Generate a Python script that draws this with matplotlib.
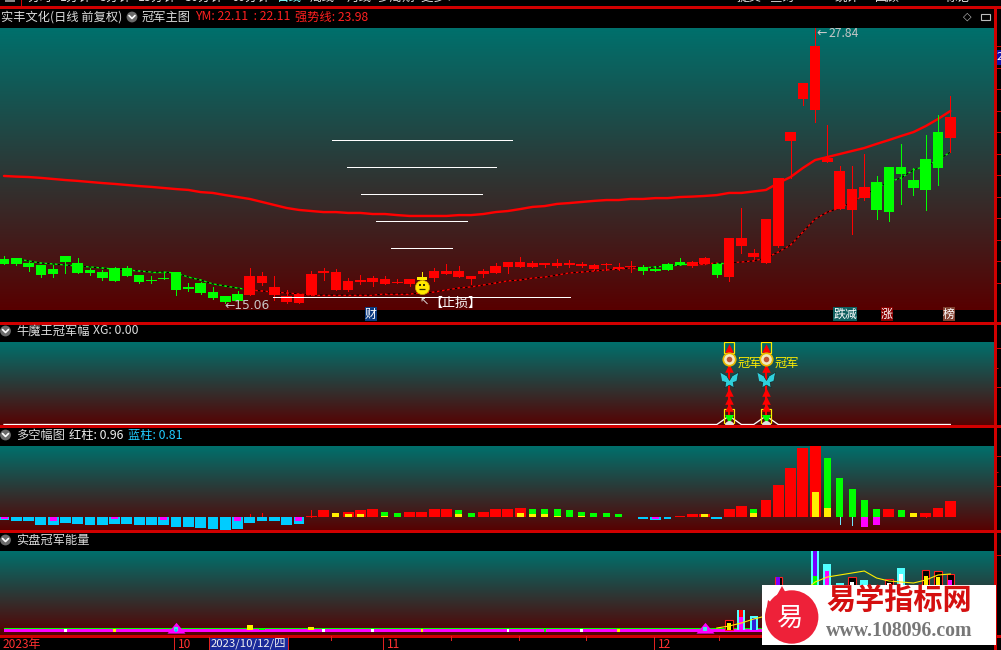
import numpy as np
import matplotlib
matplotlib.use("Agg")
import matplotlib.pyplot as plt
from matplotlib.patches import Rectangle, Circle, Polygon
from matplotlib.colors import LinearSegmentedColormap

plt.rcParams['font.family'] = ['Noto Sans CJK SC', 'DejaVu Sans']

# ---------- data ----------
candle_colors = list("g" * 20 + "r" * 14 + "y" + "r" * 17 + "gggg" + "rr" + "g" + "r" * 12 + "g" * 6 + "r")
open_p = [17.10,17.15,16.91,16.82,16.63,17.24,16.91,16.59,16.49,16.68,16.68,16.35,16.12,16.21,16.49,15.80,15.98,15.56,15.38,15.47,
          15.42,15.98,15.42,15.10,15.05,15.42,16.45,15.66,15.66,16.03,16.03,15.94,15.98,15.94,16.12,16.21,16.40,16.26,16.17,16.40,
          16.45,16.73,16.73,16.73,16.82,16.77,16.82,16.77,16.63,16.82,16.63,16.73,16.73,16.63,16.87,16.96,16.77,16.87,16.87,16.26,
          17.70,17.19,16.91,17.70,22.59,24.54,24.03,21.61,19.42,19.38,19.93,20.68,21.38,21.38,20.77,21.75,23.00,22.73]
high_p = [17.24,17.15,16.96,16.82,16.82,17.24,17.15,16.68,16.59,16.73,16.77,16.35,16.31,16.49,16.49,15.98,16.03,15.80,15.38,15.61,
          16.68,16.49,16.31,15.66,15.47,16.54,16.68,16.63,16.21,16.35,16.31,16.31,16.17,16.17,16.49,16.68,16.87,16.77,16.31,16.63,
          16.91,16.96,17.19,17.01,16.91,17.10,17.05,16.96,16.87,16.91,16.91,17.01,16.82,16.77,16.91,17.15,17.01,17.19,16.91,18.07,
          19.47,17.56,18.96,20.87,23.00,25.28,27.84,23.33,21.42,21.42,21.98,20.96,21.38,22.45,21.33,22.86,23.80,24.68]
low_p = [16.87,16.82,16.54,16.26,16.26,16.45,16.45,16.35,16.12,16.08,16.31,15.98,15.98,16.17,15.42,15.61,15.47,15.24,15.05,15.05,
         15.42,15.89,15.19,15.05,15.05,15.42,16.12,15.66,15.61,15.94,15.84,15.94,15.98,15.84,15.89,16.08,16.40,16.26,15.94,16.26,
         16.45,16.45,16.73,16.73,16.73,16.73,16.73,16.73,16.59,16.59,16.59,16.49,16.40,16.54,16.59,16.82,16.73,16.87,16.26,16.08,
         17.38,17.10,16.91,17.66,20.87,24.26,23.47,21.61,19.42,18.26,19.84,18.96,18.87,19.66,20.07,19.38,20.54,22.07]
close_p = [16.87,16.87,16.73,16.35,16.40,16.96,16.45,16.45,16.21,16.08,16.31,16.03,16.08,16.17,15.66,15.70,15.52,15.29,15.10,15.15,
           16.31,16.31,15.80,15.38,15.47,16.40,16.54,16.49,16.08,16.12,16.21,16.17,16.03,16.17,16.26,16.54,16.54,16.54,16.31,16.54,
           16.77,16.96,16.96,16.91,16.91,16.91,16.91,16.87,16.82,16.87,16.73,16.77,16.54,16.54,16.59,16.82,16.96,17.15,16.35,18.07,
           18.07,17.38,18.96,20.87,23.00,25.28,27.00,21.80,21.19,20.35,20.45,19.38,19.28,21.05,20.40,20.31,21.33,23.70]
ym_line = [np.nan,17.10,17.01,16.91,16.87,16.82,16.77,16.73,16.68,16.63,16.59,16.54,16.49,16.49,16.45,16.26,16.12,15.94,15.84,15.75,
           15.66,15.61,15.56,15.52,15.47,15.42,15.42,15.42,15.42,15.42,15.42,15.47,15.47,15.47,15.52,15.56,15.66,15.75,15.80,15.89,
           15.98,16.08,16.12,16.21,16.26,16.35,16.45,16.49,16.54,16.59,16.63,16.68,16.68,16.73,16.77,16.82,16.87,16.87,16.91,16.91,
           16.96,17.01,17.15,17.42,17.75,18.35,18.96,19.28,19.47,19.75,20.07,20.40,20.68,20.87,21.24,21.42,21.70,22.07]
strong_line = [20.96,20.93,20.91,20.87,20.82,20.77,20.73,20.68,20.63,20.59,20.54,20.49,20.45,20.40,20.35,20.31,20.21,20.17,20.07,19.98,
               19.89,19.75,19.61,19.47,19.38,19.33,19.28,19.28,19.24,19.24,19.19,19.19,19.14,19.10,19.10,19.10,19.10,19.14,19.14,19.19,
               19.28,19.33,19.42,19.52,19.56,19.66,19.70,19.75,19.80,19.84,19.84,19.89,19.89,19.93,19.93,19.98,20.00,20.03,20.07,20.17,
               20.17,20.24,20.31,20.63,20.91,21.33,21.70,21.84,21.98,22.12,22.26,22.45,22.63,22.82,23.00,23.28,23.61,23.98]
price_ticks = list(range(16, 28))
ladder_start = [26.7, 27.9, 29.05, 30.3, 31.5, 21.9]
ladder_end = [41.3, 40.0, 38.9, 37.7, 36.45, 46.05]
ladder_price = [22.63, 21.38, 20.12, 18.87, 17.61, 15.35]

xg_values = [1 if i in (59, 62) else 0 for i in range(78)]
xg_days = [59, 62]
arrow_levels = [9.0, 6.65, 3.82, 2.88, 2.06]

bar3_main = [-.19,-.25,-.31,-.5,-.5,-.38,-.44,-.5,-.56,-.44,-.44,-.5,-.56,-.5,-.63,-.63,-.69,-.81,-.88,-.81,
             -.38,-.25,-.31,-.5,-.44,.06,.38,.25,.31,.38,.44,.31,.25,.31,.31,.44,.44,.38,.25,.31,
             .44,.5,.56,.5,.5,.44,.38,.31,.25,.19,.13,0,-.13,-.19,0,.06,.13,.13,-.13,.44,
             .63,.5,1.06,1.94,3.06,4.25,4.44,3.63,2.38,1.69,1.06,.44,.5,.38,0,.19,.56,.94]
bar3_main_col = list("c" * 25 + "rr" + "g" + "rrr" + "gg" + "rrrr" + "gg" + "rrrr" + "g" * 8 + "m" + "cc" + "c"
                     + "rrr" + "c" + "rr" + "g" + "rrrrr" + "ggggg" + "r" + "g" + "y" + "rrr")
bar3_inner = [-.13,0,0,0,-.25,0,0,0,0,-.13,0,0,0,-.19,0,0,0,0,0,-.25,
              0,0,0,0,-.25,0,0,.19,.13,.13,0,.06,0,0,0,0,0,.13,0,0,
              0,0,.25,.13,.13,.06,0,.06,0,-.04,0,-.06,0,-.13,-.13,0,0,.13,0,0,
              0,.25,0,0,0,0,1.56,.56,0,0,-.63,-.56,0,0,.25,0,0,0]
bar3_inner_cyan_days = [54]
tail_days = [20, 21, 25, 68, 69, 75]
tail_tops = [.13, .19, .38, -.44, -.56, .25]
tail_cols = ['r', 'r', 'r', 'c', 'c', 'r']

vol_days = [59,60,61,62,63,64,65,66,67,68,69,70,71,72,73,74,75,76,77]
vol_outer = [10,20,14,37,53,30,40,79,66,47,53,50,40,51,62,40,60,59,56]
vol_outer_col = ['o','c','c','o','o','c','c','c','c','c','o','c','o','o','c','c','o','o','o']
vol_inner = [7,20,12,30,53,20,30,79,59,0,48,0,30,47,56,30,54,53,50]
vol_inner_col = ['y','r','b','m','p','m','m','p','m','m','w','m','w','w','w','w','y','y','m']
vol_low_days = [20, 21, 25, 60, 66]
vol_low = [5, 2, 3, 13, 54]
vol_low_col = ['y', 'g', 'y', 'm', 'g']
vol_ma_days = list(range(58, 78))
vol_ma = [2,4,7,11,14,20,28,38,48,53,55,57,59,52,49,48,47,50,55,56]
vol_bump_days = [14, 57]
dot_days = [5, 9, 14, 26, 30, 34, 41, 44, 47, 50]
dot_cols = ['w', 'y', 'c', 'w', 'w', 'y', 'w', 'g', 'w', 'y']

date_ticks_big = [174, 209, 287.5, 383, 654]
date_ticks_small = [331, 451, 519, 586, 719]

# ---------- layout helpers ----------
W, H = 1001, 650
PC = {'r': '#ff0000', 'g': '#00ff00', 'c': '#00ccff', 'm': '#ff00ff', 'y': '#ffee00',
      'b': '#3020d8', 'p': '#7a00ff', 'w': '#ffffff', 'o': '#ff2020'}
LINE = '#d00000'
px = 1.0 * 72 / 100
fig = plt.figure(figsize=(W / 100, H / 100), dpi=100, facecolor='black')
cmap = LinearSegmentedColormap.from_list('bg', [(0, 112/255, 108/255), (88/255, 0, 0)])
XL = ((0 - 4) / 12.29, (995 - 4) / 12.29)
days = np.arange(78)


def panel(y0, y1, ylim, ticks=(), minor=()):
    ax = fig.add_axes([0, 1 - y1 / H, 995 / W, (y1 - y0) / H], facecolor='black')
    ax.set_xlim(*XL)
    ax.set_ylim(*ylim)
    ax.imshow(np.linspace(0, 1, 256)[:, None], cmap=cmap, aspect='auto', extent=(*XL, ylim[0], ylim[1]),
              origin='upper', zorder=0, interpolation='bilinear')
    for s in ax.spines.values():
        s.set_visible(False)
    ax.set_xticks([])
    ax.yaxis.tick_right()
    ax.set_yticks(list(ticks))
    ax.set_yticks(list(minor), minor=True)
    ax.tick_params(axis='y', which='major', color=LINE, length=4.3, width=px, labelright=False, labelleft=False)
    ax.tick_params(axis='y', which='minor', color=LINE, length=2.2, width=px)
    return ax


# ---------- main panel ----------
ax1 = panel(28, 310, (14.727, 27.84), ticks=price_ticks)
body_w = 10.6 / 12.29
ax1.plot(days, strong_line, color='#ff0000', lw=2.4 * px, zorder=3, solid_capstyle='round')
for i in range(1, 77):
    c = PC[candle_colors[i]] if candle_colors[i] != 'y' else PC['r']
    ax1.plot([i, i + 1], [ym_line[i], ym_line[i + 1]], color=c, lw=1.3 * px, zorder=2)
ax1.plot(days, ym_line, color='black', lw=1.3 * px, ls=(0, (2, 2)), zorder=2.5)
for i in days:
    c = PC[candle_colors[i]]
    ax1.vlines(i, low_p[i], high_p[i], color=c, lw=px, zorder=4, antialiased=False)
    bot, top = min(open_p[i], close_p[i]), max(open_p[i], close_p[i])
    ax1.bar(i, top - bot, bottom=bot, width=body_w, color=c, lw=0, zorder=5, antialiased=False)
ax1.hlines(ladder_price, ladder_start, ladder_end, color='white', lw=px, zorder=6, antialiased=False)
# smiley beneath the capped candle
ax1.scatter([34], [15.80], s=105, color='#ffe800', edgecolors='#c8a000', linewidths=.5, zorder=7)
ax1.scatter([33.83, 34.17], [15.89, 15.89], s=3, color='#333300', marker='s', zorder=8, lw=0)
ax1.scatter([34], [15.70], s=22, color='#333300', marker='_', lw=.9, zorder=8)

# ---------- XG panel ----------
ax2 = panel(342, 426.5, (-0.235, 9.65), ticks=[4.4, 8.9], minor=[6.65])
ax2.plot(days, xg_values, color='white', lw=1.3 * px, zorder=3)
fly = [(-1, .9), (-.3, .5), (0, 0), (.3, .5), (1, .9), (.8, -.1), (.4, -.2), (.5, -.8), (0, -.5), (-.5, -.8), (-.4, -.2), (-.8, -.1)]
for d in xg_days:
    ax2.add_patch(Rectangle((d - 0.4, 8.4), 0.8, 1.2, fc='none', ec='#ffee00', lw=1.2 * px, zorder=3))
    ax2.add_patch(Rectangle((d - 0.4, 0.18), 0.8, 1.64, fc='none', ec='#ffee00', lw=1.2 * px, zorder=3))
    ax2.vlines(d, 0.6, 9.0, color='#ff0000', lw=2 * px, zorder=4)
    ax2.scatter([d] * len(arrow_levels), arrow_levels, marker='^', s=38, color='#ff0000', lw=0, zorder=5)
    ax2.scatter([d], [7.7], s=80, color='#f0e8c0', edgecolors='#e8b800', linewidths=1.2, zorder=6)
    ax2.scatter([d], [7.7], s=16, color='#c05030', lw=0, zorder=7)
    ax2.scatter([d], [5.2], marker=fly, s=170, color='#30d0dc', edgecolors='#102020', linewidths=.4, zorder=6)
    ax2.scatter([d], [0.65], marker='v', s=42, color='#00ff00', lw=0, zorder=6)
    ax2.scatter([d], [-0.1], s=42, color='#e0e0e0', lw=0, zorder=6)
    ax2.text(d + 0.7, 7.1, '冠军', color='#ffee00', fontsize=8.8, va='center', ha='left', zorder=7)

# ---------- long/short panel ----------
ax3 = panel(446, 531, (-0.906, 4.406), ticks=[1.875, 3.75], minor=[2.81])
wide = 10.8 / 12.29
narrow = 7 / 12.29
for i in days:
    if bar3_main[i] != 0:
        k = bar3_main_col[i]
        ax3.bar(i, bar3_main[i], width=wide if k in 'rc' else narrow, color=PC[k], lw=0, zorder=3, antialiased=False)
    if bar3_inner[i] != 0:
        k = 'c' if i in bar3_inner_cyan_days else ('y' if bar3_inner[i] > 0 else 'm')
        ax3.bar(i, bar3_inner[i], width=narrow, color=PC[k], lw=0, zorder=4, antialiased=False)
for d, t, k in zip(tail_days, tail_tops, tail_cols):
    ax3.vlines(d, 0, t, color=PC[k] if k != 'c' else '#70e8ff', lw=px, zorder=2, antialiased=False)

# ---------- energy panel ----------
ax4 = panel(551, 636, (-6, 79), ticks=[75])
ax4.plot(days[:64], np.full(64, -0.4), color=PC['m'], lw=4 * px, zorder=2, solid_capstyle='butt')
ax4.plot(days[:64], np.full(64, 2.0), color=PC['g'], lw=1.0 * px, zorder=2.1)
ax4.scatter(vol_bump_days, [2.2, 2.2], marker=[(-1.6, -.9), (0, 1), (1.6, -.9)], s=170, color=PC['m'], lw=0, zorder=3)
ax4.scatter(vol_bump_days, [0.6, 0.6], marker='s', s=10, color='#40e8e0', lw=0, zorder=4)
ax4.scatter(dot_days, np.ones(len(dot_days)) * -0.4, marker='s', s=3, color=[PC[k] for k in dot_cols], lw=0, zorder=4)
for d, h, o, n, k in zip(vol_days, vol_outer, vol_outer_col, vol_inner, vol_inner_col):
    if o == 'o':
        ax4.bar(d, h, width=7.4 / 12.29, fc='black', ec='#ff2020', lw=1.1 * px, zorder=3)
    else:
        ax4.bar(d, h, width=8 / 12.29, color='#50ffff', lw=0, zorder=3, antialiased=False)
    if n:
        ax4.bar(d, n, width=4 / 12.29, color=PC[k], lw=0, zorder=4, antialiased=False)
for d, h, k in zip(vol_low_days, vol_low, vol_low_col):
    ax4.bar(d, h, width=(6 if h < 6 else 4) / 12.29, color=PC[k], lw=0, zorder=5, antialiased=False)
ax4.plot(vol_ma_days, vol_ma, color='#ffee00', lw=1.1 * px, zorder=6)

# ---------- top menu strip, cut off by the window edge ----------
top = fig.add_axes([0, 1 - 7 / H, 1, 7 / H], facecolor='black')
top.set_xlim(0, W)
top.set_ylim(7, 0)
top.axis('off')
menu_x = [27, 60, 100, 138, 185, 231, 277, 310, 347, 377, 421, 737, 770, 835, 875, 945]
menu_t = ['分时', '1分钟', '5分钟', '15分钟', '30分钟', '60分钟', '日线', '周线', '月线', '多周期', '更多 ▸', '提交', '查询', '统计', '回顾', '标记']
for x, t in zip(menu_x, menu_t):
    top.text(x, 3.8, t, color='#7fffff' if t == '日线' else '#e0e0e0', fontsize=9, va='bottom', ha='left', clip_on=True)
top.add_patch(Rectangle((5, -2), 10, 4, fc='#888888', ec='none'))

# ---------- overlay: headers, separators, tags, watermark ----------
ov = fig.add_axes([0, 0, 1, 1], facecolor='none', zorder=20)
ov.set_xlim(0, W)
ov.set_ylim(H, 0)
ov.axis('off')
for y in (7, 322.5, 426.3, 531, 636):
    ov.hlines(y, 0, W, color=LINE, lw=1.2 * px, antialiased=False)
ov.vlines(995, 7, H, color=LINE, lw=1.2 * px, antialiased=False)
ov.vlines(21, 0, 7, color=LINE, lw=px, antialiased=False)


def label(x, y, t, c='#dcdcdc', fs=8.8, **kw):
    return ov.text(x, y, t, color=c, fontsize=fs, va='center', ha=kw.pop('ha', 'left'), **kw)


def icon(x, y):
    ov.add_patch(Circle((x, y), 5.4, fc='#6a6a6a', ec='none'))
    ov.plot([x - 3, x, x + 3], [y - 1.5, y + 1.5, y - 1.5], color='white', lw=1.2, solid_capstyle='round')


label(1, 17, '实丰文化(日线 前复权)')
icon(132, 17)
label(142, 17, '冠军主图')
label(195, 17, 'YM: 22.11  : 22.11', c='#ff2020')
label(295, 17, '强势线: 23.98', c='#ff2020')
ov.text(967, 17, '◇', color='#bbbbbb', fontsize=8, va='center', ha='center', family=['DejaVu Sans'])
ov.add_patch(Rectangle((981, 14), 9, 6, fc='none', ec='#bbbbbb', lw=.8))
icon(5.5, 331)
label(16, 331, '牛魔王冠军幅')
label(93, 331, 'XG: 0.00')
icon(5.5, 435)
label(16, 435, '多空幅图')
label(69, 435, '红柱: 0.96', c='#f0f0f0')
label(128, 435, '蓝柱: 0.81', c='#20ccff')
icon(5.5, 540)
label(16, 540, '实盘冠军能量')

label(816, 33, '←', c='#c8c8c8', fs=9, family=['DejaVu Sans'])
label(829, 33.5, '27.84', c='#c8c8c8', fs=8.8)
label(224, 305.5, '←15.06', c='#c8c8c8', fs=8.8, family=['DejaVu Sans'])
label(419, 303, '↖', c='#e0e0e0', fs=8, family=['DejaVu Sans'])
label(429, 303, '【止损】', c='white', fs=9.4)
for x, t, bg in [(371, '财', '#0a3a80'), (845, '跌减', '#0e5f5f'), (887, '涨', '#8a0000'), (949, '榜', '#804030')]:
    ov.text(x, 314, t, color='white', fontsize=8.6, va='center', ha='center',
            bbox=dict(boxstyle='square,pad=0.02', fc=bg, ec='none'))

# right-side blue price tag, cut by the window edge
ov.add_patch(Rectangle((995.5, 50), 6, 15, fc='#1010a8', ec='none'))
ov.text(996.5, 57.5, '27.8', color='white', fontsize=8, va='center', ha='left', clip_on=True)

# date strip
ov.vlines(date_ticks_big, 637, 650, color='#e02020', lw=px, antialiased=False)
ov.vlines(date_ticks_small, 636, 640, color='#e02020', lw=px, antialiased=False)
ov.add_patch(Rectangle((209, 637), 79, 13, fc='#1a2a9a', ec='none'))
label(3, 644.5, '2023年', c='#ff3030', fs=8.6)
label(178, 644.5, '10', c='#ff3030', fs=8.6)
label(387, 644.5, '11', c='#ff3030', fs=8.6)
label(658, 644.5, '12', c='#ff3030', fs=8.6)
label(211, 644.5, '2023/10/12/四', c='#f0f0f0', fs=8.2)

# watermark
ov.add_patch(Rectangle((762, 585), 234, 60, fc='white', ec='none', zorder=30))
flame = [(765, 618), (768, 600), (773, 604), (777, 595), (782, 586), (787, 595), (795, 603), (802, 595),
         (805, 603), (812, 607), (818, 618)]
ov.add_patch(Polygon(flame, closed=True, fc='#ee2139', ec='none', zorder=31))
ov.add_patch(Circle((791.7, 617), 26.7, fc='#ee2139', ec='none', zorder=31))
ov.text(790, 618, '易', color='white', fontsize=19, ha='center', va='center', zorder=32)
ov.text(899, 600, '易学指标网', color='#d40f0f', fontsize=21, fontweight='bold', ha='center', va='center', zorder=32)
ov.text(899.5, 630.5, 'www.108096.com', color='#777777', fontsize=14.3, fontweight='bold', ha='center', va='center',
        family=['Liberation Serif'], zorder=32)

fig.savefig('out.png', dpi=100, facecolor='black')
